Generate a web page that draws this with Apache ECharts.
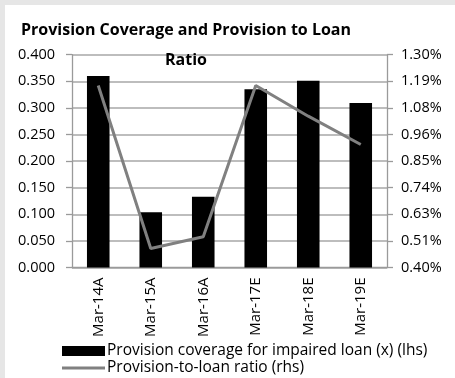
<!DOCTYPE html>
<html>
<head>
<meta charset="utf-8">
<script src="https://cdn.jsdelivr.net/npm/echarts@6/dist/echarts.min.js"></script>
<style>
  html, body { margin: 0; padding: 0; background: #e6e6e6; width: 455px; height: 378px; overflow: hidden; }
  #chart { position: absolute; left: 5px; top: 5px; width: 450px; height: 373px; background: #ffffff; }
</style>
</head>
<body>
<div id="chart"></div>
<script>
// Fiscal periods (A = actual, E = estimate)
const categories = ['Mar-14A', 'Mar-15A', 'Mar-16A', 'Mar-17E', 'Mar-18E', 'Mar-19E'];
// Provision coverage for impaired loans, times (left axis)
const coverage = [0.360, 0.104, 0.133, 0.335, 0.351, 0.309];
// Provision-to-loan ratio, percent (right axis)
const provisionRatio = [1.17, 0.48, 0.53, 1.17, 1.04, 0.92];
// Right axis tick labels
const rightTicks = ['0.40%', '0.51%', '0.63%', '0.74%', '0.85%', '0.96%', '1.08%', '1.19%', '1.30%'];

const BAR_NAME = 'Provision coverage for impaired loan (x) (lhs)';
const LINE_NAME = 'Provision-to-loan ratio (rhs)';
const FONT = '"Open Sans", "Noto Sans", sans-serif';
const chart = echarts.init(document.getElementById('chart'), null, { renderer: 'canvas' });

const legendText = { fontFamily: FONT, fontSize: 15.5, color: '#000', padding: [0, 0, 0, -3] };

chart.setOption({
  animation: false,
  backgroundColor: '#ffffff',
  textStyle: { fontFamily: FONT, color: '#111' },
  title: {
    text: 'Provision Coverage and Provision to Loan\nRatio',
    left: 181,
    top: 10,
    padding: 0,
    textAlign: 'center',
    textStyle: { fontFamily: FONT, fontSize: 16, fontWeight: 'bold', color: '#000', lineHeight: 30 }
  },
  grid: { left: 67, right: 68, top: 49.7, bottom: 110.5, containLabel: false },
  legend: [
    {
      left: 57,
      top: 338,
      padding: 0,
      itemWidth: 43,
      itemHeight: 10,
      textStyle: legendText,
      data: [{ name: BAR_NAME, icon: 'rect' }]
    },
    {
      left: 57,
      top: 355,
      padding: 0,
      itemWidth: 43,
      itemHeight: 3,
      textStyle: legendText,
      data: [{ name: LINE_NAME, icon: 'rect', itemStyle: { color: '#808080' } }]
    }
  ],
  xAxis: {
    type: 'category',
    data: categories,
    axisLine: { lineStyle: { color: '#9a9a9a', width: 1.3 } },
    axisTick: { show: false },
    axisLabel: { rotate: 90, margin: 10, fontSize: 15, color: '#000', fontFamily: FONT, interval: 0 }
  },
  yAxis: [
    {
      type: 'value',
      min: 0,
      max: 0.4,
      interval: 0.05,
      axisLine: { show: true, lineStyle: { color: '#9a9a9a', width: 1.3 } },
      axisTick: { show: true, length: 6, lineStyle: { color: '#9a9a9a', width: 1.3 } },
      axisLabel: { margin: 17, fontSize: 14.5, color: '#000', fontFamily: FONT, formatter: v => v.toFixed(3) },
      splitLine: { show: true, lineStyle: { color: '#bdbdbd', width: 2 } }
    },
    {
      type: 'value',
      min: 0.40,
      max: 1.30,
      alignTicks: true,
      axisLine: { show: true, lineStyle: { color: '#9a9a9a', width: 1.3 } },
      axisTick: { show: true, length: 6, lineStyle: { color: '#9a9a9a', width: 1.3 } },
      axisLabel: { margin: 14, fontSize: 14.5, color: '#000', fontFamily: FONT, formatter: (v, i) => rightTicks[i] },
      splitLine: { show: false }
    }
  ],
  series: [
    {
      name: BAR_NAME,
      type: 'bar',
      yAxisIndex: 0,
      data: coverage,
      barWidth: '43%',
      itemStyle: { color: '#000000' }
    },
    {
      name: LINE_NAME,
      type: 'line',
      yAxisIndex: 1,
      data: provisionRatio,
      symbol: 'none',
      lineStyle: { color: '#808080', width: 3 },
      itemStyle: { color: '#808080' }
    }
  ]
});
</script>
</body>
</html>
